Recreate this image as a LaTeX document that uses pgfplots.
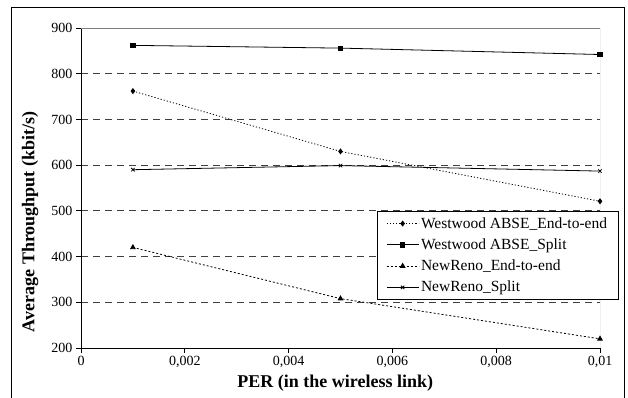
\documentclass[border=0pt]{standalone}
\usepackage{pgfplots}
\pgfplotsset{compat=1.18}
\usepackage{fontspec}
\setmainfont{Liberation Serif}
\begin{document}
\begin{tikzpicture}[x=1pt,y=1pt]
\path[use as bounding box] (0,0) rectangle (628,398);
\draw[black, line width=1pt] (11,-5) rectangle (624,390);
\begin{axis}[
  at={(81pt,50pt)}, anchor=south west,
  scale only axis, width=519pt, height=320pt,
  xmin=0, xmax=0.01, ymin=200, ymax=900,
  scaled x ticks=false,
  axis x line*=bottom, axis y line*=left,
  axis line style={-, black, line width=0.8pt},
  xtick={0,0.002,0.004,0.006,0.008,0.01},
  xticklabels={0,{0,002},{0,004},{0,006},{0,008},{0,01}},
  ytick={200,300,...,900},
  /pgf/number format/assume math mode=true,
  tick label style={font=\fontsize{14}{14}\selectfont},
  tick align=outside, major tick length=5pt,
  tick style={black, line width=0.8pt},
  ymajorgrids,
  grid style={black!75, dash pattern=on 7pt off 5pt, line width=0.8pt},
  xlabel={PER (in the wireless link)},
  ylabel={Average Throughput (kbit/s)},
  xlabel style={font=\fontsize{18}{18}\selectfont\bfseries, at={(axis description cs:0.49,-0.11)}, anchor=center},
  ylabel style={font=\fontsize{18}{18}\selectfont\bfseries, at={(axis description cs:-0.098,0.394)}, anchor=center},
  legend style={at={(0.570,0.428)}, anchor=north west, draw=black, line width=0.8pt, fill=white,
    font=\fontsize{15.5}{15.5}\selectfont, row sep=5pt, inner xsep=9pt, inner ysep=4pt,
    cells={anchor=west}},
  legend image code/.code={\draw[mark repeat=2,mark phase=2,#1] plot coordinates {(0pt,0pt) (16pt,0pt) (32pt,0pt)};},
]
\draw[gray, line width=0.8pt] (axis cs:0,900) -- (axis cs:0.01,900) -- (axis cs:0.01,200);
\addplot[black, line width=0.8pt, dash pattern=on 1.2pt off 2pt, mark=diamond*, mark size=2.4pt, mark options={solid}]
  coordinates {(0.001,762) (0.005,630) (0.01,521)};
\addlegendentry{Westwood ABSE\_End-to-end}
\addplot[black, line width=0.8pt, mark=square*, mark size=2.2pt, mark options={solid}]
  coordinates {(0.001,862) (0.005,856) (0.01,842)};
\addlegendentry{Westwood ABSE\_Split}
\addplot[black, line width=0.8pt, dash pattern=on 2pt off 2pt, mark=triangle*, mark size=2.6pt, mark options={solid}]
  coordinates {(0.001,420) (0.005,308) (0.01,220)};
\addlegendentry{NewReno\_End-to-end}
\addplot[black, line width=0.8pt, mark=x, mark size=2.4pt, mark options={solid}]
  coordinates {(0.001,590) (0.005,599) (0.01,587)};
\addlegendentry{NewReno\_Split}
\end{axis}
\end{tikzpicture}
\end{document}
